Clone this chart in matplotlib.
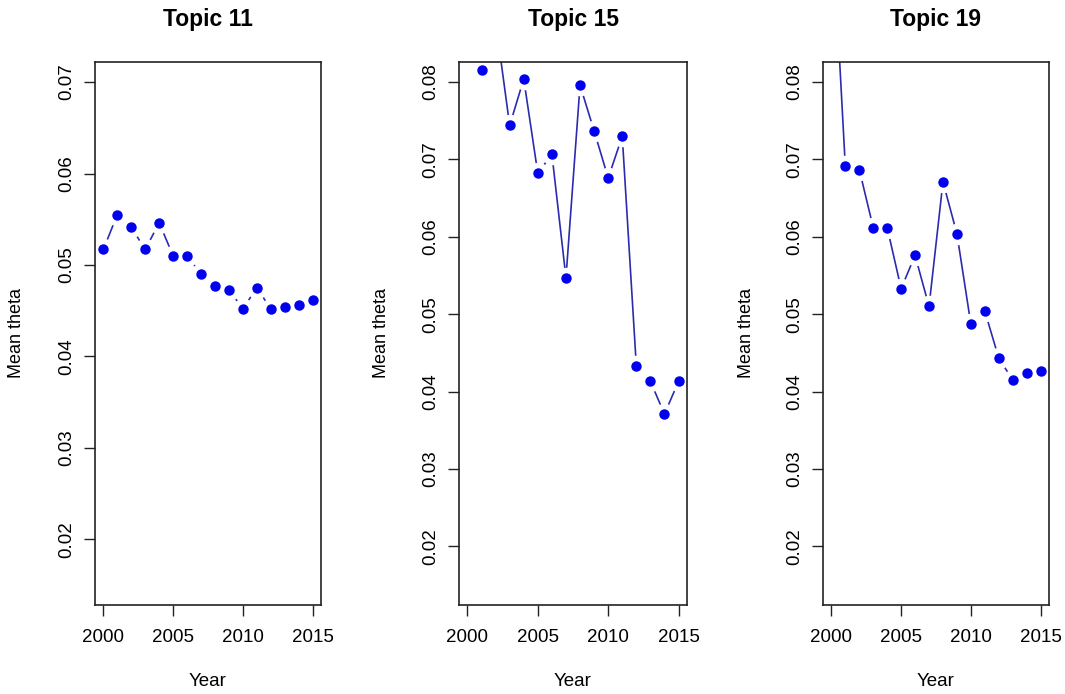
import matplotlib.pyplot as plt
import numpy as np

plt.rcParams['font.family'] = ['Liberation Sans', 'DejaVu Sans']

years = list(range(2000, 2016))

topic11 = [0.0517, 0.0555, 0.0541, 0.0517, 0.0546, 0.0510, 0.0510, 0.0490,
           0.0477, 0.0473, 0.0452, 0.0475, 0.0452, 0.0454, 0.0456, 0.0462]
topic15 = [0.0910, 0.0816, 0.0879, 0.0744, 0.0804, 0.0682, 0.0707, 0.0547,
           0.0796, 0.0737, 0.0676, 0.0730, 0.0433, 0.0413, 0.0371, 0.0413]
topic19 = [0.1025, 0.0691, 0.0687, 0.0612, 0.0612, 0.0533, 0.0576, 0.0510,
           0.0671, 0.0604, 0.0487, 0.0504, 0.0443, 0.0415, 0.0424, 0.0427]

titles = ["Topic 11", "Topic 15", "Topic 19"]
series = [topic11, topic15, topic19]
ylims = [(0.015, 0.07), (0.015, 0.08), (0.015, 0.08)]
yticks = [[0.02, 0.03, 0.04, 0.05, 0.06, 0.07],
          [0.02, 0.03, 0.04, 0.05, 0.06, 0.07, 0.08],
          [0.02, 0.03, 0.04, 0.05, 0.06, 0.07, 0.08]]
xticks = [2000, 2005, 2010, 2015]

W, H = 1065, 694
boxes = [(95, 321), (459, 687), (823, 1049)]
ylab_x = [18, 383, 748]
top, bottom = 62, 605

fig = plt.figure(figsize=(W / 100, H / 100), dpi=100)

for i in range(3):
    l, r = boxes[i]
    ax = fig.add_axes([l / W, (H - bottom) / H, (r - l) / W, (bottom - top) / H])

    # R style type="b": line with gaps around the points
    ax.plot(years, series[i], color="#2b2bb0", lw=1.2, zorder=1)
    ax.plot(years, series[i], "o", color="white", ms=14.5, zorder=1.5)
    ax.plot(years, series[i], "o", color="#0000ee", ms=6.5, zorder=2)

    lo, hi = ylims[i]
    pad = (hi - lo) * 0.04
    ax.set_ylim(lo - pad, hi + pad)
    ax.set_xlim(2000 - 0.6, 2015 + 0.6)

    ax.set_xticks(xticks)
    ax.set_yticks(yticks[i])
    ax.set_yticklabels(["%.2f" % v for v in yticks[i]], rotation=90, va="center")
    ax.tick_params(axis="both", length=8, width=1, labelsize=13.5, color="#222222")
    ax.tick_params(axis="x", pad=9)
    ax.tick_params(axis="y", pad=6)

    for s in ax.spines.values():
        s.set_linewidth(1.2)
        s.set_color("#222222")

    ax.set_title(titles[i], fontsize=16.5, fontweight="bold", pad=26)
    ax.set_xlabel("Year", fontsize=13.5)
    ax.set_ylabel("Mean theta", fontsize=13)
    ax.xaxis.set_label_coords(0.5, -0.125)
    ax.yaxis.set_label_coords((ylab_x[i] + 7 - l) / (r - l), 0.5)

plt.savefig("out.png", dpi=100)
plt.close()
